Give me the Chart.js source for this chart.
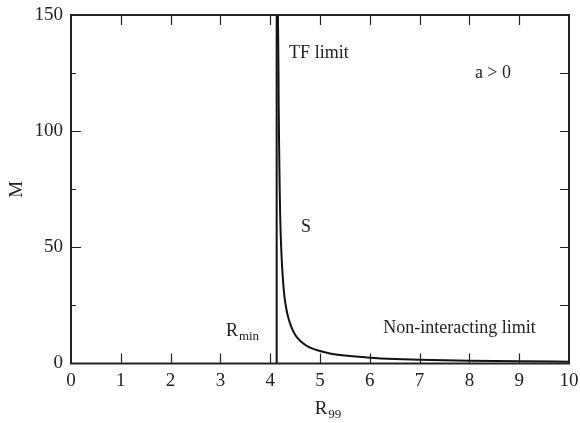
<!DOCTYPE html>
<html>
<head>
<meta charset="utf-8">
<script src="https://cdn.jsdelivr.net/npm/chart.js@4.4.1/dist/chart.umd.min.js"></script>
<style>
  html, body { margin: 0; padding: 0; background: #fff; }
  #wrap { width: 580px; height: 423px; }
</style>
</head>
<body>
<div id="wrap"><canvas id="chart"></canvas></div>
<script>
// curve S
const rValues = [4.155, 4.165, 4.17, 4.18, 4.19, 4.20, 4.22, 4.25, 4.28, 4.32, 4.36, 4.42, 4.50, 4.60, 4.75, 4.93, 5.2, 5.5, 6.0, 6.5, 7.0, 8.0, 9.0, 10.0];
const mValues = [150, 130, 112, 92, 76, 64, 50, 38, 30, 24, 20, 16, 12.4, 9.8, 7.4, 5.8, 4.3, 3.4, 2.5, 1.95, 1.6, 1.2, 0.95, 0.8];

// R_min vertical line
const rMin = 4.13;

const xTicks = [0, 1, 2, 3, 4, 5, 6, 7, 8, 9, 10];
const yTicks = [0, 50, 100, 150];
const yMinorTicks = [25, 75, 125];

// text labels inside the plot: [main, subscript], anchored at data coords
const noteText = [['TF limit', ''], ['a > 0', ''], ['S', ''], ['R', 'min'], ['Non-interacting limit', '']];
const noteR = [4.38, 8.11, 4.62, 3.11, 6.27];
const noteM = [133.7, 125, 58.8, 13.8, 15.3];

const serif = '"Liberation Serif", "DejaVu Serif", serif';

const framePlugin = {
  id: 'frame',
  afterDraw(chart) {
    const ctx = chart.ctx;
    const a = chart.chartArea;
    const xs = chart.scales.x, ys = chart.scales.y;
    ctx.save();
    ctx.strokeStyle = '#222';

    // ticks pointing inwards
    ctx.lineWidth = 1.2;
    ctx.beginPath();
    xTicks.slice(1, -1).forEach(v => {
      const px = Math.round(xs.getPixelForValue(v)) + 0.5;
      ctx.moveTo(px, a.bottom); ctx.lineTo(px, a.bottom - 10);
      ctx.moveTo(px, a.top); ctx.lineTo(px, a.top + 10);
    });
    yTicks.slice(1, -1).forEach(v => {
      const py = Math.round(ys.getPixelForValue(v)) + 0.5;
      ctx.moveTo(a.left, py); ctx.lineTo(a.left + 10, py);
      ctx.moveTo(a.right, py); ctx.lineTo(a.right - 9, py);
    });
    yMinorTicks.forEach(v => {
      const py = Math.round(ys.getPixelForValue(v)) + 0.5;
      ctx.moveTo(a.left, py); ctx.lineTo(a.left + 5, py);
      ctx.moveTo(a.right, py); ctx.lineTo(a.right - 9, py);
    });
    ctx.stroke();

    // box
    ctx.lineWidth = 2;
    ctx.strokeRect(a.left, a.top, a.right - a.left, a.bottom - a.top);

    // annotations
    ctx.fillStyle = '#222';
    ctx.textBaseline = 'middle';
    ctx.textAlign = 'left';
    noteText.forEach((t, i) => {
      const px = xs.getPixelForValue(noteR[i]);
      const py = ys.getPixelForValue(noteM[i]);
      ctx.font = '18px ' + serif;
      ctx.fillText(t[0], px, py);
      if (t[1]) {
        const w = ctx.measureText(t[0]).width;
        ctx.font = '13px ' + serif;
        ctx.fillText(t[1], px + w + 1, py + 5);
      }
    });

    // axis titles
    ctx.font = '19px ' + serif;
    const rw = ctx.measureText('R').width;
    ctx.font = '13px ' + serif;
    const sw = ctx.measureText('99').width;
    const cx = (a.left + a.right) / 2 + 8;
    const x0 = cx - (rw + sw + 1) / 2;
    ctx.font = '19px ' + serif;
    ctx.fillText('R', x0, 409);
    ctx.font = '13px ' + serif;
    ctx.fillText('99', x0 + rw + 1, 415);

    ctx.translate(17, (a.top + a.bottom) / 2);
    ctx.rotate(-Math.PI / 2);
    ctx.textAlign = 'center';
    ctx.font = '19px ' + serif;
    ctx.fillText('M', 0, 0);
    ctx.restore();
  }
};

new Chart(document.getElementById('chart').getContext('2d'), {
  type: 'scatter',
  data: {
    datasets: [
      {
        label: 'S',
        data: rValues.map((r, i) => ({ x: r, y: mValues[i] })),
        showLine: true,
        borderColor: '#111',
        borderWidth: 2,
        pointRadius: 0,
        cubicInterpolationMode: 'monotone',
        fill: false
      },
      {
        label: 'R_min',
        data: [{ x: rMin, y: 0 }, { x: rMin, y: 150 }],
        showLine: true,
        borderColor: '#111',
        borderWidth: 2,
        pointRadius: 0,
        fill: false
      }
    ]
  },
  options: {
    responsive: true,
    maintainAspectRatio: false,
    animation: false,
    layout: { padding: { top: 15, right: 11, left: 0, bottom: 0 } },
    plugins: { legend: { display: false }, tooltip: { enabled: false } },
    scales: {
      x: {
        type: 'linear',
        min: 0, max: 10,
        afterBuildTicks: s => { s.ticks = xTicks.map(v => ({ value: v })); },
        afterFit: s => { s.height = 59.5; s.paddingLeft = 0; s.paddingRight = 0; },
        ticks: { color: '#222', padding: 6, maxRotation: 0, font: { family: serif, size: 19 } },
        grid: { display: false, drawTicks: false },
        border: { display: false }
      },
      y: {
        type: 'linear',
        min: 0, max: 150,
        afterBuildTicks: s => { s.ticks = yTicks.map(v => ({ value: v })); },
        afterFit: s => { s.width = 71; s.paddingTop = 0; s.paddingBottom = 0; },
        ticks: { color: '#222', padding: 8, font: { family: serif, size: 19 } },
        grid: { display: false, drawTicks: false },
        border: { display: false }
      }
    }
  },
  plugins: [framePlugin]
});
</script>
</body>
</html>
